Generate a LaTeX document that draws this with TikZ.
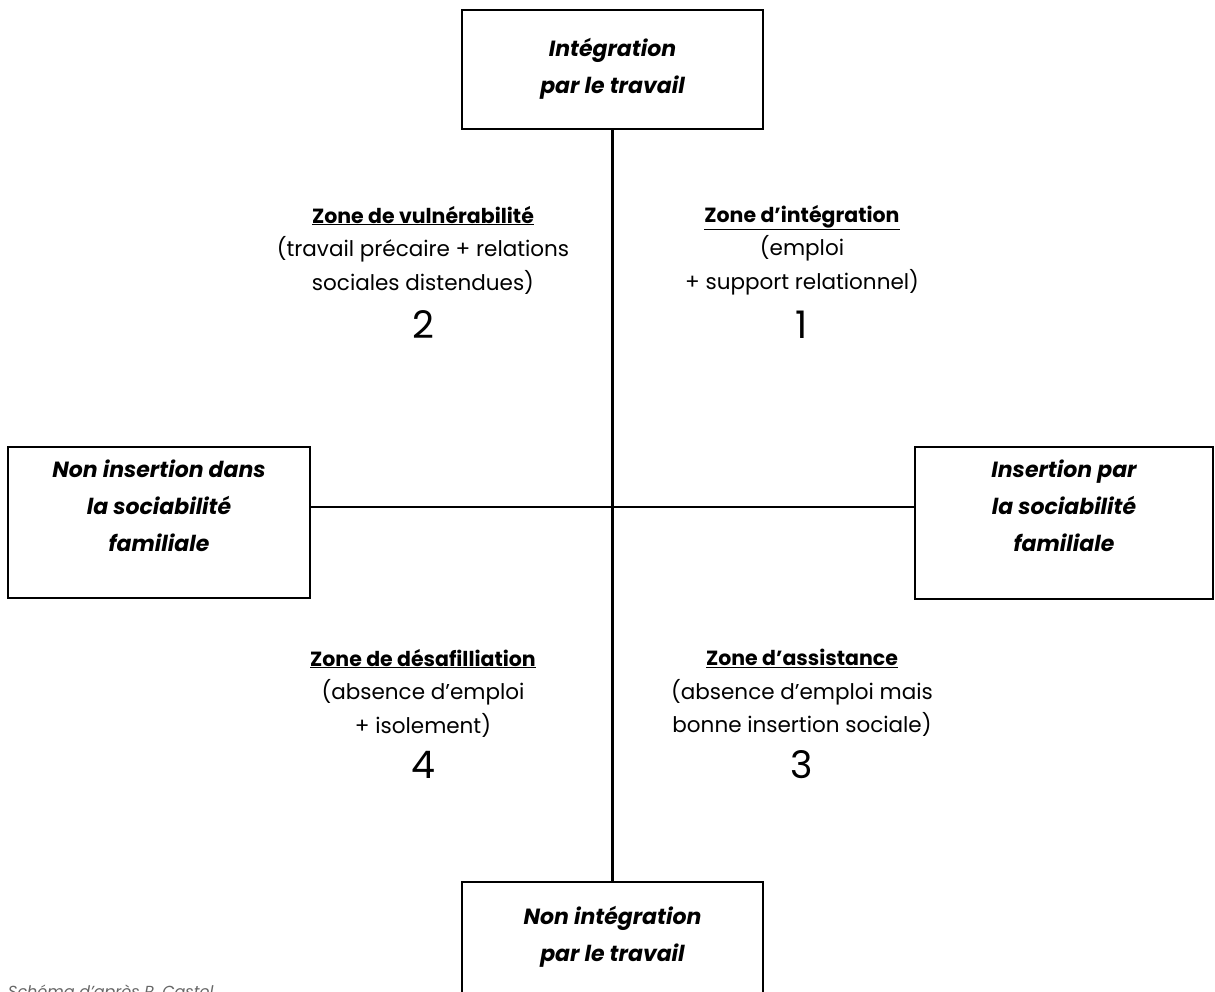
\documentclass[tikz,border=0pt]{standalone}
\usepackage{fontspec}
\setmainfont{Poppins}
\begin{document}
\begin{tikzpicture}[x=1pt,y=-1pt,
  frame/.style={draw, line width=1.4pt, inner sep=0pt},
  boxtxt/.style={align=center, inner sep=0pt, font=\fontsize{22}{37}\selectfont\bfseries\itshape},
  zone/.style={align=center, inner sep=0pt, font=\fontsize{21.5}{33.5}\selectfont},
  num/.style={inner sep=0pt, font=\fontsize{38}{40}\selectfont},
  axis/.style={line width=2.2pt},
  haxis/.style={line width=1.1pt}]
\useasboundingbox (0,0) rectangle (1215,992);
\clip (0,0) rectangle (1215,992);

% boxes
\node[frame, minimum width=301pt, minimum height=119pt] (T) at (612.5,69.5) {};
\node[boxtxt] (Tt) at (612.5,69) {Intégration\\par le travail};
\node[frame, minimum width=302pt, minimum height=151pt] (L) at (159,522.5) {};
\node[boxtxt] (Lt) at (159,505.5) {Non insertion dans\\la sociabilité\\familiale};
\node[frame, minimum width=298pt, minimum height=152pt] (R) at (1064,523) {};
\node[boxtxt] (Rt) at (1064,505.5) {Insertion par\\la sociabilité\\familiale};
\node[frame, minimum width=301pt, minimum height=122pt] (B) at (612.5,943) {};
\node[boxtxt] (Bt) at (612.5,937) {Non intégration\\par le travail};

% axes
\coordinate (C) at (612.5,507);
\draw[axis] (T.south) -- (B.north);
\draw[haxis] (L.east |- C) -- (R.west |- C);

% zones
\node[zone] (Z2) at (423,250) {\underline{\fontsize{20.5}{33}\selectfont\bfseries Zone de vulnérabilité}\\(travail précaire + relations\\sociales distendues)};
\node[num] (N2) at (423,325) {2};
\node[zone] (Z1) at (802,250) {\underline{\fontsize{20.5}{33}\selectfont\bfseries Zone d’intégration}\\(emploi\\+ support relationnel)};
\node[num] (N1) at (802,325) {1};
\node[zone] (Z4) at (423,693) {\underline{\fontsize{20.5}{33}\selectfont\bfseries Zone de désafilliation}\\(absence d’emploi\\+ isolement)};
\node[num] (N4) at (423,765) {4};
\node[zone] (Z3) at (802,693) {\underline{\fontsize{20.5}{33}\selectfont\bfseries Zone d’assistance}\\(absence d’emploi mais\\bonne insertion sociale)};
\node[num] (N3) at (802,765) {3};

% caption
\node[anchor=base west, inner sep=0pt, text=black!60, font=\fontsize{16}{20}\selectfont\itshape] (cap) at (8,997) {Schéma d’après R. Castel};
\end{tikzpicture}
\end{document}
